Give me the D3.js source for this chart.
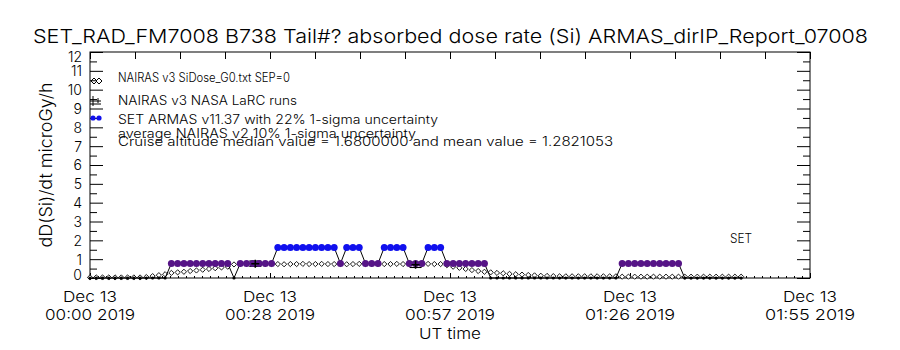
<!DOCTYPE html>
<html><head><meta charset="utf-8">
<script src="https://cdn.jsdelivr.net/npm/d3@7"></script>
<style>
body{margin:0;background:#fff}
text{font-family:"Inter","DejaVu Sans","Liberation Sans",sans-serif;font-weight:300;fill:#000}
</style>
</head><body>
<svg id="chart" width="900" height="350"></svg>
<script>
// ---------------- data ----------------
const timeMinutes = [0,1,2,3,4,5,6,7,8,9,10,11,12,13,14,15,16,17,18,19,20,21,22,23,24,25,26,27,28,29,30,31,32,33,34,35,36,37,38,39,40,41,42,43,44,45,46,47,48,49,50,51,52,53,54,55,56,57,58,59,60,61,62,63,64,65,66,67,68,69,70,71,72,73,74,75,76,77,78,79,80,81,82,83,84,85,86,87,88,89,90,91,92,93,94,95,96,97,98,99,100,101,102,103,104];
const armasDose = [0,0,0,0,0,0,0,0,0,0,0,0,0,
  0.77,0.77,0.77,0.77,0.77,0.77,0.77,0.77,0.77,0.77,
  0,
  0.77,0.77,0.77,0.77,0.77,0.77,
  1.62,1.62,1.62,1.62,1.62,1.62,1.62,1.62,1.62,1.62,
  0.77,
  1.62,1.62,1.62,
  0.77,0.77,0.77,
  1.62,1.62,1.62,1.62,
  0.77,0.77,0.77,
  1.62,1.62,1.62,
  0.77,0.77,0.77,0.77,0.77,0.77,0.77,
  0,0,0,0,0,0,0,0,0,0,0,0,0,0,0,0,0,0,0,0,0,
  0.77,0.77,0.77,0.77,0.77,0.77,0.77,0.77,0.77,0.77,
  0,0,0,0,0,0,0,0,0,0];
const nairasDose = [0.03,0.03,0.03,0.03,0.03,0.03,0.03,0.03,0.03,
  0.05,0.10,0.15,0.20,0.27,0.30,0.33,0.37,0.40,0.44,0.48,0.52,0.56,0.60,0.72,
  0.74,0.75,0.74,0.75,0.74,0.74,0.74,0.73,0.74,0.74,0.75,0.74,0.74,0.75,0.74,0.74,0.74,0.73,0.74,0.75,0.74,0.74,0.75,0.74,0.74,0.75,0.74,0.74,0.73,0.74,0.75,0.74,0.74,
  0.68,0.60,0.54,0.48,0.42,0.37,0.33,0.30,0.27,0.25,0.22,0.20,0.18,0.16,0.14,0.12,0.11,0.10,
  0.09,0.09,0.09,0.09,0.09,0.09,0.09,0.09,0.09,0.09,
  0.07,0.07,0.07,0.07,0.07,0.07,0.07,0.07,0.07,0.07,0.07,0.07,0.07,0.07,0.07,0.07,0.07,0.07,0.07,0.07];
const larcTime = [26.4, 52.0];
const larcDose = [0.76, 0.70];
const larcErr  = [0.14, 0.14];
const xTickMinutes = [0, 28.75, 57.5, 86.25, 115];
const xTickDate = ["Dec 13","Dec 13","Dec 13","Dec 13","Dec 13"];
const xTickTime = ["00:00 2019","00:28 2019","00:57 2019","01:26 2019","01:55 2019"];
const yTickValues = [0,1,2,3,4,5,6,7,8,9,10,11,12];
const legendLabels = ["NAIRAS v3 SiDose_G0.txt SEP=0","NAIRAS v3 NASA LaRC runs","SET ARMAS v11.37 with 22% 1-sigma uncertainty","average NAIRAS v2 10% 1-sigma uncertainty","Cruise altitude median value = 1.6800000 and mean value = 1.2821053"];
const titleText = "SET_RAD_FM7008  B738 Tail#? absorbed dose rate (Si) ARMAS_dirIP_Report_07008";

// ---------------- layout ----------------
const L = 90, R = 810, T = 52, B = 278;
const svg = d3.select("#chart");
const x = d3.scaleLinear().domain([0, 115]).range([L, R]);
const y = d3.scaleLinear().domain([0, 12]).range([B, T]);

// title
svg.append("text").attr("x", 450.5).attr("y", 43).attr("text-anchor", "middle")
  .attr("font-size", 19).attr("textLength", 835).attr("lengthAdjust", "spacingAndGlyphs")
  .text(titleText);

// frame
svg.append("rect").attr("x", L).attr("y", T).attr("width", R - L).attr("height", B - T)
  .attr("fill", "none").attr("stroke", "#000").attr("stroke-width", 1);

// y axes (left with labels, right mirrored)
const yMinor = d3.range(0.5, 12, 1);
const gyl = svg.append("g").attr("transform", `translate(${L},0)`)
  .call(d3.axisLeft(y).tickValues(yTickValues).tickSizeInner(-13).tickSizeOuter(0).tickPadding(8).tickFormat(d3.format("d")));
gyl.select(".domain").remove();
gyl.selectAll("text").attr("font-size", 14).attr("font-family", null)
  .attr("dy", d => d === 12 ? "0.7em" : d === 0 ? "0.1em" : "0.35em");
svg.append("g").attr("transform", `translate(${L},0)`)
  .call(d3.axisLeft(y).tickValues(yMinor).tickSizeInner(-7).tickSizeOuter(0).tickFormat(""))
  .select(".domain").remove();
const gyr = svg.append("g").attr("transform", `translate(${R},0)`)
  .call(d3.axisRight(y).tickValues(yTickValues).tickSizeInner(-13).tickSizeOuter(0).tickFormat(""));
gyr.select(".domain").remove();
svg.append("g").attr("transform", `translate(${R},0)`)
  .call(d3.axisRight(y).tickValues(yMinor).tickSizeInner(-7).tickSizeOuter(0).tickFormat(""))
  .select(".domain").remove();

// x axes
const xMinor = d3.range(0, 115.01, 115 / 16);
const gxb = svg.append("g").attr("transform", `translate(0,${B})`)
  .call(d3.axisBottom(x).tickValues(xTickMinutes).tickSizeInner(-5).tickSizeOuter(0).tickFormat(""));
gxb.select(".domain").remove();
const gxbm = svg.append("g").attr("transform", `translate(0,${B})`)
  .call(d3.axisBottom(x).tickValues(d3.range(0, 115.01, 115 / 90)).tickSizeInner(-2).tickSizeOuter(0).tickFormat(""));
gxbm.select(".domain").remove();
const gxt = svg.append("g").attr("transform", `translate(0,${T})`)
  .call(d3.axisTop(x).tickValues(xMinor).tickSizeInner(-7).tickSizeOuter(0).tickFormat(""));
gxt.select(".domain").remove();

// x tick labels (two lines)
const xl = svg.append("g");
xTickMinutes.forEach((m, i) => {
  xl.append("text").attr("x", x(m)).attr("y", 302).attr("text-anchor", "middle").attr("font-size", 15)
    .attr("textLength", 54).attr("lengthAdjust", "spacingAndGlyphs").text(xTickDate[i]);
  xl.append("text").attr("x", x(m)).attr("y", 320).attr("text-anchor", "middle").attr("font-size", 15)
    .attr("textLength", 90).attr("lengthAdjust", "spacingAndGlyphs").text(xTickTime[i]);
});
svg.append("text").attr("x", 450).attr("y", 339).attr("text-anchor", "middle").attr("font-size", 15)
  .attr("textLength", 62).attr("lengthAdjust", "spacingAndGlyphs").text("UT time");

// y label
svg.append("text").attr("transform", "translate(52,165) rotate(-90)").attr("text-anchor", "middle")
  .attr("font-size", 17).attr("textLength", 165).attr("lengthAdjust", "spacingAndGlyphs")
  .text("dD(Si)/dt microGy/h");

// ---------------- data marks ----------------
const plot = svg.append("g");
const diamond = (cx, cy, r) => `M${cx},${cy - r}L${cx + r},${cy}L${cx},${cy + r}L${cx - r},${cy}Z`;

// NAIRAS v3 diamonds
plot.selectAll("path.nai").data(timeMinutes).join("path").attr("class", "nai")
  .attr("d", (t, i) => diamond(x(t), y(nairasDose[i]), 2.6))
  .attr("fill", "#fff").attr("stroke", "#000").attr("stroke-width", 0.9);

// ARMAS connecting line
const armasPts = timeMinutes.map((t, i) => [t, armasDose[i]]);
plot.append("path").datum(armasPts)
  .attr("d", d3.line().x(d => x(d[0])).y(d => y(d[1])))
  .attr("fill", "none").attr("stroke", "#000").attr("stroke-width", 1);

// LaRC runs with error bars
larcTime.forEach((t, i) => {
  const cx = x(t), y1 = y(larcDose[i] + larcErr[i]), y2 = y(larcDose[i] - larcErr[i]);
  const g = plot.append("g").attr("stroke", "#000").attr("stroke-width", 1.2);
  g.append("line").attr("x1", cx).attr("x2", cx).attr("y1", y1).attr("y2", y2);
  g.append("line").attr("x1", cx - 6).attr("x2", cx + 6).attr("y1", y1).attr("y2", y1);
  g.append("line").attr("x1", cx - 6).attr("x2", cx + 6).attr("y1", y2).attr("y2", y2);
});

// ARMAS markers
const armasColor = v => v === 0 ? "#000" : v > 1.2 ? "#1010ee" : "#561487";
plot.selectAll("circle.arm").data(armasPts).join("circle").attr("class", "arm")
  .attr("cx", d => x(d[0])).attr("cy", d => y(d[1]))
  .attr("r", d => d[1] === 0 ? 1.6 : 3.5)
  .attr("fill", d => armasColor(d[1]));

// LaRC center markers on top
larcTime.forEach((t, i) => {
  const cx = x(t), cy = y(larcDose[i]);
  plot.append("path").attr("d", `M${cx - 4},${cy}H${cx + 4}M${cx},${cy - 4}V${cy + 4}`)
    .attr("stroke", "#000").attr("stroke-width", 1.5);
});

// ---------------- legend ----------------
const lg = svg.append("g");
lg.append("path").attr("d", diamond(94, 81, 3) + diamond(99, 81, 3)).attr("fill", "none").attr("stroke", "#000");
lg.append("path").attr("d", "M90,101H101M93,96V106M98,98V103M90,104H101").attr("stroke", "#000").attr("fill", "none");
lg.append("circle").attr("cx", 93).attr("cy", 118).attr("r", 2.6).attr("fill", "#1010ee");
lg.append("circle").attr("cx", 99).attr("cy", 118).attr("r", 2.6).attr("fill", "#1010ee");
const legY = [82, 104.5, 123.5, 137.5, 146];
const legW = [172, 179, 320, 298, 495];
legendLabels.forEach((s, i) => {
  lg.append("text").attr("x", 118).attr("y", legY[i]).attr("font-size", 12.5)
    .attr("textLength", legW[i]).attr("lengthAdjust", "spacingAndGlyphs").text(s);
});

svg.append("text").attr("x", 730).attr("y", 243).attr("font-size", 13)
  .attr("textLength", 22).attr("lengthAdjust", "spacingAndGlyphs").text("SET");
</script>
</body></html>
